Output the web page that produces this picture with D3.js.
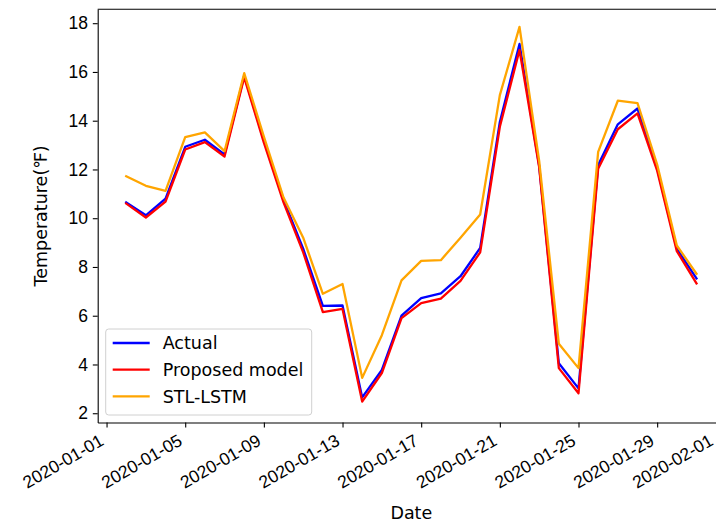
<!DOCTYPE html>
<html>
<head>
<meta charset="utf-8">
<script src="https://cdn.jsdelivr.net/npm/d3@7"></script>
<style>
  body { margin: 0; background: #fff; }
  svg { display: block; font-family: "DejaVu Sans", sans-serif; }
</style>
</head>
<body>
<div id="grafico"></div>
<script>
// Fechas (un punto por día) y series
const fechas = [
  "2020-01-02", "2020-01-03", "2020-01-04", "2020-01-05", "2020-01-06",
  "2020-01-07", "2020-01-08", "2020-01-09", "2020-01-10", "2020-01-11",
  "2020-01-12", "2020-01-13", "2020-01-14", "2020-01-15", "2020-01-16",
  "2020-01-17", "2020-01-18", "2020-01-19", "2020-01-20", "2020-01-21",
  "2020-01-22", "2020-01-23", "2020-01-24", "2020-01-25", "2020-01-26",
  "2020-01-27", "2020-01-28", "2020-01-29", "2020-01-30", "2020-01-31"
];

const actual = [10.65, 10.12, 10.8, 12.93, 13.22, 12.62, 15.85, 13.2, 10.75, 8.75,
  6.4, 6.42, 2.65, 3.78, 6.0, 6.72, 6.92, 7.62, 8.78, 13.95,
  17.15, 12.15, 4.05, 3.02, 12.18, 13.85, 14.5, 12.05, 8.75, 7.53];

const proposed = [10.6, 10.03, 10.68, 12.82, 13.12, 12.53, 15.78, 13.1, 10.65, 8.6,
  6.15, 6.28, 2.48, 3.65, 5.9, 6.52, 6.7, 7.43, 8.6, 13.75,
  16.9, 12.1, 3.85, 2.82, 12.03, 13.65, 14.3, 11.95, 8.65, 7.33];

const stlLstm = [11.72, 11.33, 11.12, 13.33, 13.52, 12.75, 15.95, 13.35, 10.85, 9.2,
  6.9, 7.3, 3.45, 5.2, 7.45, 8.25, 8.28, 9.2, 10.15, 15.05,
  17.85, 12.35, 4.85, 3.85, 12.72, 14.82, 14.72, 12.2, 8.88, 7.72];

const nombresSeries = ["Actual", "Proposed model", "STL-LSTM"];
const coloresSeries = ["#0000ff", "#ff0000", "#ffa500"];

const ticksFechas = [
  "2020-01-01", "2020-01-05", "2020-01-09", "2020-01-13", "2020-01-17",
  "2020-01-21", "2020-01-25", "2020-01-29", "2020-02-01"
];
const ticksY = [2, 4, 6, 8, 10, 12, 14, 16, 18];

// Dimensiones
const ancho = 716;
const alto = 524;
const margen = { top: 9.3, right: -9, bottom: 101.5, left: 97.7 };
const fuente = 17.5;
const tick = 4.9;

const parseFecha = d3.utcParse("%Y-%m-%d");
const formatoFecha = d3.utcFormat("%Y-%m-%d");

const series = [actual, proposed, stlLstm].map((valores, i) => ({
  nombre: nombresSeries[i],
  color: coloresSeries[i],
  valores: valores.map((v, j) => ({ fecha: parseFecha(fechas[j]), valor: v }))
}));

const svg = d3.select("#grafico")
  .append("svg")
  .attr("width", ancho)
  .attr("height", alto);

// Escalas (margen del 5% como en matplotlib)
const primera = parseFecha(fechas[0]);
const ultima = parseFecha(fechas[fechas.length - 1]);
const extra = (ultima - primera) * 0.05;

const escalaX = d3.scaleUtc()
  .domain([new Date(+primera - extra), new Date(+ultima + extra)])
  .range([margen.left, ancho - margen.right]);

const escalaY = d3.scaleLinear()
  .domain([1.62, 18.57])
  .range([alto - margen.bottom, margen.top]);

// Líneas
const generadorLinea = d3.line()
  .x(d => escalaX(d.fecha))
  .y(d => escalaY(d.valor));

svg.selectAll(".linea")
  .data(series)
  .enter()
  .append("path")
  .attr("class", "linea")
  .attr("fill", "none")
  .attr("stroke", d => d.color)
  .attr("stroke-width", 2.3)
  .attr("stroke-linejoin", "round")
  .attr("stroke-linecap", "square")
  .attr("d", d => generadorLinea(d.valores));

// Eje X
const ejeX = svg.append("g")
  .attr("transform", `translate(0,${alto - margen.bottom})`)
  .call(d3.axisBottom(escalaX)
    .tickValues(ticksFechas.map(parseFecha))
    .tickFormat(formatoFecha)
    .tickSize(tick)
    .tickSizeOuter(0));

ejeX.select(".domain").attr("stroke", "#000").attr("stroke-width", 1.1);
ejeX.selectAll(".tick line").attr("stroke", "#000").attr("stroke-width", 1.1);
ejeX.selectAll(".tick text")
  .attr("fill", "#000")
  .style("font-size", fuente + "px")
  .attr("text-anchor", "end")
  .attr("x", 0)
  .attr("y", 0)
  .attr("dy", "0.78em")
  .attr("transform", `translate(-9,${tick * 2}) rotate(-30)`);

// Eje Y
const ejeY = svg.append("g")
  .attr("transform", `translate(${margen.left},0)`)
  .call(d3.axisLeft(escalaY)
    .tickValues(ticksY)
    .tickSize(tick)
    .tickPadding(tick)
    .tickSizeOuter(0));

ejeY.select(".domain").attr("stroke", "#000").attr("stroke-width", 1.1);
ejeY.selectAll(".tick line").attr("stroke", "#000").attr("stroke-width", 1.1);
ejeY.selectAll(".tick text")
  .attr("fill", "#000")
  .style("font-size", fuente + "px");

// Borde superior del área de dibujo
svg.append("line")
  .attr("x1", margen.left)
  .attr("x2", ancho - margen.right)
  .attr("y1", margen.top)
  .attr("y2", margen.top)
  .attr("stroke", "#000")
  .attr("stroke-width", 1.1);

// Títulos de los ejes
svg.append("text")
  .attr("x", (margen.left + ancho - margen.right) / 2)
  .attr("y", 519)
  .attr("text-anchor", "middle")
  .style("font-size", fuente + "px")
  .text("Date");

svg.append("text")
  .attr("transform", `translate(47,${(margen.top + alto - margen.bottom) / 2}) rotate(-90)`)
  .attr("text-anchor", "middle")
  .style("font-size", fuente + "px")
  .text("Temperature(℉)");

// Leyenda
const leyX = margen.left + 8;
const leyY = 329;
svg.append("rect")
  .attr("x", leyX)
  .attr("y", leyY)
  .attr("width", 206)
  .attr("height", 86)
  .attr("rx", 3)
  .attr("fill", "#fff")
  .attr("fill-opacity", 0.8)
  .attr("stroke", "#d0d0d0")
  .attr("stroke-width", 1);

const leyenda = svg.selectAll(".leyenda")
  .data(series)
  .enter()
  .append("g")
  .attr("class", "leyenda")
  .attr("transform", (d, i) => `translate(${leyX},${leyY + 14 + i * 26.7})`);

leyenda.append("line")
  .attr("x1", 7)
  .attr("x2", 44)
  .attr("stroke", d => d.color)
  .attr("stroke-width", 2.3);

leyenda.append("text")
  .attr("x", 57)
  .attr("dy", "0.35em")
  .style("font-size", fuente + "px")
  .text(d => d.nombre);
</script>
</body>
</html>
